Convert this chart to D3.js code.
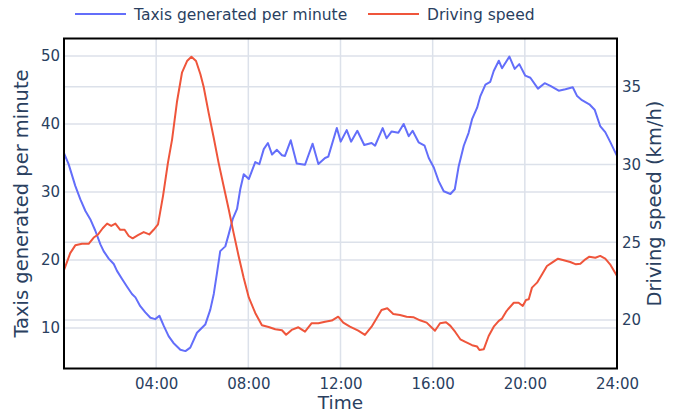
<!DOCTYPE html>
<html>
<head>
<meta charset="utf-8">
<script src="https://cdn.jsdelivr.net/npm/d3@7"></script>
<style>
  html, body { margin: 0; padding: 0; background: #fff; }
  svg text { font-family: "DejaVu Sans", Verdana, sans-serif; fill: #2a3f5f; }
</style>
</head>
<body>
<svg id="chart" width="688" height="414"></svg>
<script>
// hours since midnight
const taxiHours = [0.00, 0.20, 0.49, 0.71, 0.93, 1.14, 1.36, 1.58, 1.72, 1.94, 2.16, 2.30, 2.52, 2.73, 2.95, 3.10, 3.31, 3.53, 3.75, 3.96, 4.14, 4.33, 4.54, 4.75, 5.05, 5.27, 5.48, 5.77, 6.13, 6.35, 6.50, 6.64, 6.78, 7.00, 7.15, 7.32, 7.51, 7.65, 7.80, 8.02, 8.30, 8.48, 8.67, 8.85, 9.03, 9.24, 9.46, 9.59, 9.84, 10.10, 10.46, 10.79, 11.04, 11.33, 11.47, 11.84, 12.01, 12.27, 12.46, 12.73, 13.03, 13.35, 13.50, 13.83, 14.00, 14.22, 14.51, 14.74, 14.96, 15.13, 15.39, 15.65, 15.83, 16.05, 16.26, 16.48, 16.77, 16.96, 17.13, 17.35, 17.56, 17.71, 17.93, 18.07, 18.29, 18.50, 18.65, 18.87, 19.01, 19.33, 19.56, 19.76, 20.02, 20.24, 20.57, 20.86, 21.11, 21.47, 21.76, 22.08, 22.27, 22.48, 22.80, 23.03, 23.27, 23.49, 23.70, 24.00];
const taxiValues = [35.7, 34.1, 30.9, 28.9, 27.2, 26.0, 24.3, 22.3, 21.3, 20.2, 19.4, 18.4, 17.2, 16.1, 15.0, 14.5, 13.2, 12.3, 11.5, 11.3, 11.8, 10.3, 8.8, 7.8, 6.8, 6.6, 7.1, 9.3, 10.5, 12.7, 15.0, 18.1, 21.3, 22.0, 23.8, 26.0, 27.5, 30.4, 32.6, 31.9, 34.4, 34.1, 36.3, 37.2, 35.5, 36.2, 35.4, 35.3, 37.6, 34.2, 34.0, 37.1, 34.1, 35.0, 35.2, 39.4, 37.4, 39.1, 37.4, 39.0, 36.9, 37.2, 36.8, 39.4, 37.9, 38.9, 38.7, 40.0, 38.2, 39.0, 37.3, 36.8, 35.0, 33.6, 31.6, 30.1, 29.7, 30.4, 33.8, 36.8, 38.7, 40.7, 42.4, 44.1, 45.8, 46.2, 47.8, 49.3, 48.2, 49.9, 48.1, 48.8, 47.1, 46.8, 45.2, 46.0, 45.6, 44.9, 45.1, 45.4, 44.1, 43.5, 42.9, 42.1, 39.7, 38.8, 37.4, 35.3];

const speedHours = [0.00, 0.27, 0.49, 0.78, 1.07, 1.29, 1.48, 1.68, 1.87, 2.05, 2.23, 2.44, 2.63, 2.81, 2.98, 3.21, 3.46, 3.70, 3.89, 4.08, 4.30, 4.51, 4.69, 4.90, 5.12, 5.34, 5.53, 5.73, 5.92, 6.06, 6.28, 6.50, 6.71, 6.93, 7.15, 7.36, 7.58, 7.80, 8.02, 8.30, 8.59, 8.88, 9.17, 9.46, 9.64, 9.88, 10.17, 10.46, 10.75, 11.04, 11.33, 11.62, 11.90, 12.12, 12.41, 12.77, 13.06, 13.35, 13.57, 13.78, 14.03, 14.29, 14.58, 14.87, 15.16, 15.45, 15.74, 16.10, 16.32, 16.58, 16.77, 16.98, 17.20, 17.42, 17.71, 17.93, 18.03, 18.22, 18.43, 18.65, 18.87, 19.01, 19.18, 19.27, 19.52, 19.73, 19.91, 20.05, 20.17, 20.31, 20.53, 20.75, 20.96, 21.18, 21.44, 21.69, 21.97, 22.22, 22.41, 22.63, 22.80, 23.06, 23.27, 23.49, 23.70, 24.00];
const speedValues = [23.2, 24.3, 24.8, 24.9, 24.9, 25.3, 25.5, 25.9, 26.2, 26.05, 26.2, 25.8, 25.8, 25.4, 25.25, 25.45, 25.65, 25.5, 25.8, 26.15, 28.0, 30.1, 31.6, 34.0, 35.9, 36.65, 36.93, 36.65, 35.8, 35.0, 33.3, 31.7, 30.1, 28.6, 27.1, 25.6, 24.1, 22.7, 21.45, 20.45, 19.66, 19.55, 19.40, 19.34, 19.05, 19.36, 19.53, 19.25, 19.79, 19.79, 19.89, 19.96, 20.21, 19.83, 19.57, 19.31, 19.04, 19.57, 20.11, 20.64, 20.75, 20.39, 20.32, 20.21, 20.18, 19.98, 19.83, 19.31, 19.79, 19.85, 19.62, 19.23, 18.76, 18.59, 18.38, 18.29, 18.07, 18.12, 18.97, 19.57, 19.94, 20.09, 20.52, 20.69, 21.11, 21.11, 20.90, 21.29, 21.33, 22.08, 22.40, 22.94, 23.47, 23.69, 23.94, 23.84, 23.73, 23.58, 23.62, 23.90, 24.07, 24.00, 24.12, 23.94, 23.58, 22.83];

const timeTicks = [4, 8, 12, 16, 20, 24];
const taxiTicks = [10, 20, 30, 40, 50];
const speedTicks = [20, 25, 30, 35];

const seriesNames = ["Taxis generated per minute", "Driving speed"];
const colors = ["#636efa", "#EF553B"];

const plotLeft = 64, plotRight = 617, plotTop = 38.5, plotBottom = 368.5;
const svg = d3.select("#chart");

const x = d3.scaleLinear().domain([0, 24]).range([plotLeft, plotRight]);
const yL = d3.scaleLinear().domain([4.04, 52.57]).range([plotBottom, plotTop]);
const yR = d3.scaleLinear().domain([16.88, 38.10]).range([plotBottom, plotTop]);

// gridlines
const grid = svg.append("g").attr("stroke", "#dce1ea").attr("stroke-width", 1.5);
timeTicks.filter(t => t < 24).forEach(t => {
  grid.append("line").attr("x1", x(t)).attr("x2", x(t)).attr("y1", plotTop).attr("y2", plotBottom);
});
taxiTicks.forEach(t => {
  grid.append("line").attr("x1", plotLeft).attr("x2", plotRight).attr("y1", yL(t)).attr("y2", yL(t));
});
speedTicks.forEach(t => {
  grid.append("line").attr("x1", plotLeft).attr("x2", plotRight).attr("y1", yR(t)).attr("y2", yR(t));
});

// axes
const fmt = t => String(t).padStart(2, "0") + ":00";
const xAxis = svg.append("g")
  .attr("transform", "translate(0," + plotBottom + ")")
  .call(d3.axisBottom(x).tickValues(timeTicks).tickFormat(fmt).tickSize(0).tickPadding(10));
const yAxisL = svg.append("g")
  .attr("transform", "translate(" + plotLeft + ",0)")
  .call(d3.axisLeft(yL).tickValues(taxiTicks).tickSize(0).tickPadding(4));
const yAxisR = svg.append("g")
  .attr("transform", "translate(" + plotRight + ",0)")
  .call(d3.axisRight(yR).tickValues(speedTicks).tickSize(0).tickPadding(5));
[xAxis, yAxisL, yAxisR].forEach(a => {
  a.select(".domain").remove();
  a.selectAll("text").style("font-family", "DejaVu Sans").style("font-size", "15px").attr("fill", "#2a3f5f");
});

// lines
svg.append("clipPath").attr("id", "plot-clip")
  .append("rect").attr("x", plotLeft).attr("y", plotTop).attr("width", plotRight - plotLeft).attr("height", plotBottom - plotTop);

const taxiLine = d3.line().x(d => x(d[0])).y(d => yL(d[1]));
const speedLine = d3.line().x(d => x(d[0])).y(d => yR(d[1]));

svg.append("path")
  .datum(taxiHours.map((h, i) => [h, taxiValues[i]]))
  .attr("clip-path", "url(#plot-clip)")
  .attr("fill", "none").attr("stroke", colors[0]).attr("stroke-width", 2)
  .attr("stroke-linejoin", "round")
  .attr("d", taxiLine);

svg.append("path")
  .datum(speedHours.map((h, i) => [h, speedValues[i]]))
  .attr("clip-path", "url(#plot-clip)")
  .attr("fill", "none").attr("stroke", colors[1]).attr("stroke-width", 2)
  .attr("stroke-linejoin", "round")
  .attr("d", speedLine);

// frame
svg.append("rect")
  .attr("x", plotLeft).attr("y", plotTop).attr("width", plotRight - plotLeft).attr("height", plotBottom - plotTop)
  .attr("fill", "none").attr("stroke", "#000").attr("stroke-width", 2);

// axis titles
svg.append("text").attr("x", (plotLeft + plotRight) / 2).attr("y", 409)
  .attr("text-anchor", "middle").style("font-size", "18.5px").text("Time");
svg.append("text")
  .attr("transform", "translate(28," + ((plotTop + plotBottom) / 2) + ") rotate(-90)")
  .attr("text-anchor", "middle").style("font-size", "19.5px").text("Taxis generated per minute");
svg.append("text")
  .attr("transform", "translate(661," + ((plotTop + plotBottom) / 2) + ") rotate(-90)")
  .attr("text-anchor", "middle").style("font-size", "19.5px").text("Driving speed (km/h)");

// legend
const legendX = [75, 368];
seriesNames.forEach((name, i) => {
  const g = svg.append("g").attr("transform", "translate(" + legendX[i] + ",14)");
  g.append("line").attr("x1", 0).attr("x2", 51).attr("y1", 0).attr("y2", 0)
    .attr("stroke", colors[i]).attr("stroke-width", 2);
  g.append("text").attr("x", 59).attr("y", 5.5).style("font-size", "15.5px").text(name);
});
</script>
</body>
</html>
